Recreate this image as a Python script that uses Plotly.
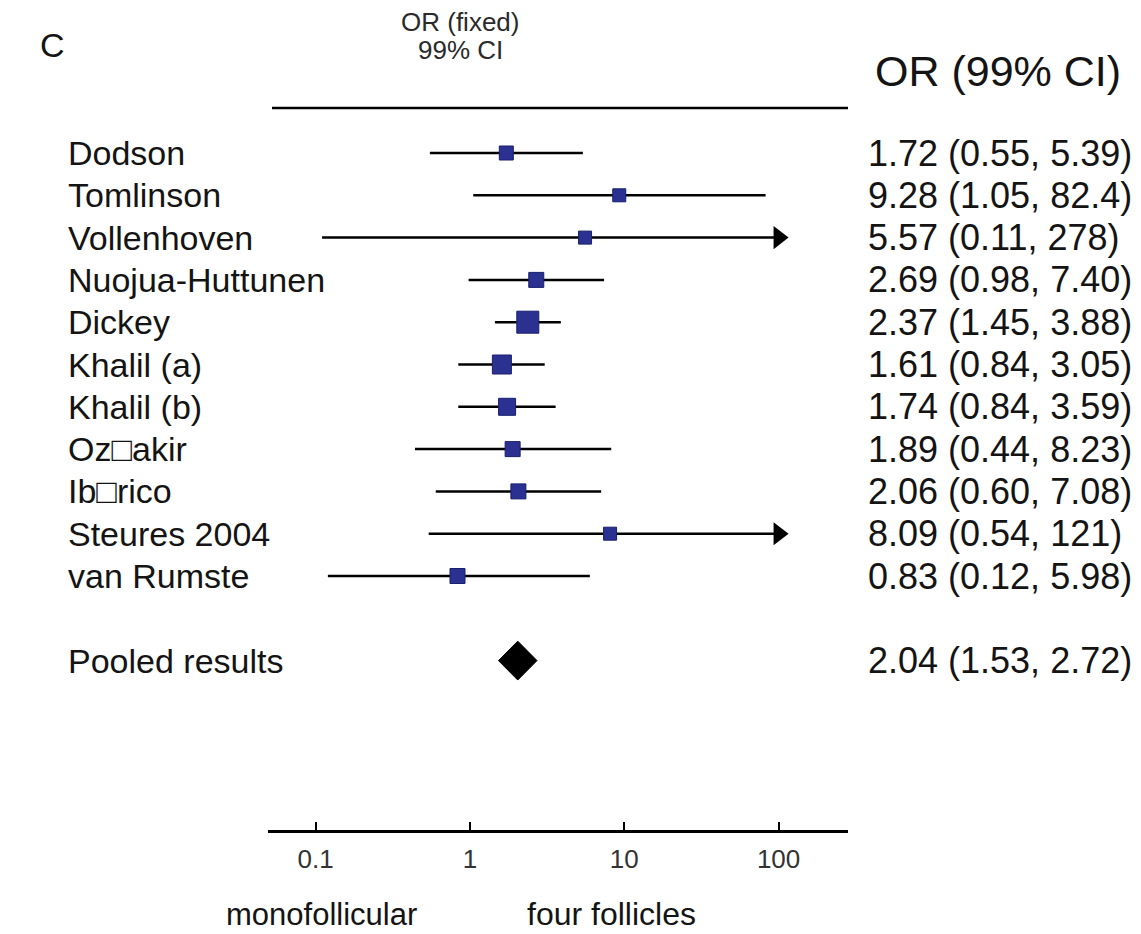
import math
import plotly.graph_objects as go

# Study-level odds ratios with 99% confidence intervals
studies = ["Dodson", "Tomlinson", "Vollenhoven", "Nuojua-Huttunen", "Dickey",
           "Khalil (a)", "Khalil (b)", "Oz\u25a1akir", "Ib\u25a1rico",
           "Steures 2004", "van Rumste"]
odds_ratio = [1.72, 9.28, 5.57, 2.69, 2.37, 1.61, 1.74, 1.89, 2.06, 8.09, 0.83]
ci_low = [0.55, 1.05, 0.11, 0.98, 1.45, 0.84, 0.84, 0.44, 0.60, 0.54, 0.12]
ci_high = [5.39, 82.4, 278, 7.40, 3.88, 3.05, 3.59, 8.23, 7.08, 121, 5.98]
ci_text = ["1.72 (0.55, 5.39)", "9.28 (1.05, 82.4)", "5.57 (0.11, 278)",
           "2.69 (0.98, 7.40)", "2.37 (1.45, 3.88)", "1.61 (0.84, 3.05)",
           "1.74 (0.84, 3.59)", "1.89 (0.44, 8.23)", "2.06 (0.60, 7.08)",
           "8.09 (0.54, 121)", "0.83 (0.12, 5.98)"]

pooled_label = "Pooled results"
pooled_or = 2.04
pooled_low = 1.53
pooled_high = 2.72
pooled_text = "2.04 (1.53, 2.72)"

tick_vals = [0.1, 1, 10, 100]
tick_text = ["0.1", "1", "10", "100"]

# marker sizes (study weights)
square_sizes = [14, 13, 13, 15, 22, 19, 17, 15, 15, 13, 15]

AXIS_MAX = 100  # intervals beyond this are drawn as arrows
rows = list(range(1, len(studies) + 1))
pooled_row = len(studies) + 2

FONT = "Liberation Sans, Arial, sans-serif"
BLUE = "#2a3190"
INK = "#141414"

fig = go.Figure()

# confidence interval lines
for r, lo, hi in zip(rows, ci_low, ci_high):
    fig.add_trace(go.Scatter(
        x=[lo, min(hi, AXIS_MAX)], y=[r, r], mode="lines",
        line=dict(color="black", width=2.5), hoverinfo="skip", showlegend=False))

# arrow heads for truncated intervals
arrow_rows = [r for r, hi in zip(rows, ci_high) if hi > AXIS_MAX]
fig.add_trace(go.Scatter(
    x=[AXIS_MAX] * len(arrow_rows), y=arrow_rows, mode="markers",
    marker=dict(symbol="triangle-right", size=20, color="black", opacity=1),
    hoverinfo="skip", showlegend=False))

# point estimates
fig.add_trace(go.Scatter(
    x=odds_ratio, y=rows, mode="markers",
    marker=dict(symbol="square", size=square_sizes, color=BLUE, opacity=1,
                line=dict(color="#1a1f6e", width=1)),
    text=studies, showlegend=False))

# pooled estimate diamond
fig.add_trace(go.Scatter(
    x=[pooled_low, pooled_or, pooled_high, pooled_or, pooled_low],
    y=[pooled_row, pooled_row - 0.46, pooled_row, pooled_row + 0.46, pooled_row],
    mode="lines", fill="toself", fillcolor="black",
    line=dict(color="black", width=1), hoverinfo="skip", showlegend=False))

L, R, T, B = 268, 293, 108, 104
W, H = 1141, 934
pw = W - L - R
ph = H - T - B


def px_to_paper_x(px):
    return (px - L) / pw


def py_to_paper_y(py):
    return 1 - (py - T) / ph


def label(x, y, text, size, xanchor="left", color=INK, yref="paper"):
    return dict(x=x, xref="paper", y=y, yref=yref, text=text, showarrow=False,
                xanchor=xanchor, yanchor="middle",
                font=dict(size=size, color=color, family=FONT))


annotations = []
# study names (left) and OR text (right)
for r, name, txt in zip(rows, studies, ci_text):
    annotations.append(label(px_to_paper_x(66), r, name, 34, yref="y"))
    annotations.append(label(px_to_paper_x(866), r, txt, 36, yref="y"))
annotations.append(label(px_to_paper_x(66), pooled_row, pooled_label, 34, yref="y"))
annotations.append(label(px_to_paper_x(866), pooled_row, pooled_text, 36, yref="y"))

# headers and axis captions
annotations += [
    label(px_to_paper_x(38), py_to_paper_y(45), "C", 34),
    label(px_to_paper_x(460), py_to_paper_y(22), "OR (fixed)", 26,
          xanchor="center", color="#2a2a2a"),
    label(px_to_paper_x(460), py_to_paper_y(50), "99% CI", 26,
          xanchor="center", color="#2a2a2a"),
    label(px_to_paper_x(1123), py_to_paper_y(71), "OR (99% CI)", 43,
          xanchor="right"),
    label(px_to_paper_x(321), py_to_paper_y(914), "monofollicular", 31,
          xanchor="center"),
    label(px_to_paper_x(611), py_to_paper_y(914), "four follicles", 32,
          xanchor="center"),
]

shapes = [
    # top rule
    dict(type="line", xref="paper", yref="paper",
         x0=px_to_paper_x(272), x1=1, y0=1, y1=1,
         line=dict(color="black", width=2.5)),
    # line of no effect at OR = 1
    dict(type="line", xref="x", yref="paper", x0=math.log10(1), x1=math.log10(1),
         y0=0, y1=1, line=dict(color="black", width=2.5)),
]

fig.update_layout(
    width=W, height=H,
    margin=dict(l=L, r=R, t=T, b=B),
    paper_bgcolor="white", plot_bgcolor="white",
    annotations=annotations, shapes=shapes,
    xaxis=dict(type="log", range=[-1.309, 2.450], tickvals=tick_vals,
               ticktext=tick_text, ticks="inside", ticklen=8, tickwidth=2,
               tickcolor="black", showline=True, linewidth=2.5,
               linecolor="black", showgrid=False, zeroline=False,
               ticklabelstandoff=4,
               tickfont=dict(size=26, color="#333", family=FONT)),
    yaxis=dict(range=[17.005, -0.064], visible=False, showgrid=False,
               zeroline=False),
    font=dict(family=FONT),
)

fig.write_html("out.html")
